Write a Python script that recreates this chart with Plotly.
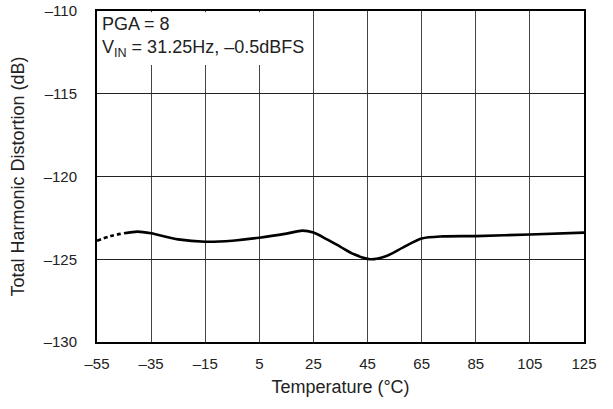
import plotly.graph_objects as go

# Data
temp_dashed = [-55, -50, -45]
thd_dashed = [-123.88, -123.6, -123.43]
temp_solid = [-45, -40, -35, -25, -15, -5, 5, 15, 21, 25, 30, 35, 40, 46, 52, 58, 65, 73, 85, 105, 125]
thd_solid = [-123.43, -123.33, -123.43, -123.8, -123.94, -123.88, -123.7, -123.45, -123.27, -123.39, -123.8, -124.25, -124.7, -125.0, -124.8, -124.3, -123.75, -123.62, -123.6, -123.5, -123.39]

x_ticks = [-55, -35, -15, 5, 25, 45, 65, 85, 105, 125]
y_ticks = [-130, -125, -120, -115, -110]

def lab(v):
    return str(v).replace("-", "\u2013")

fig = go.Figure()
fig.add_trace(go.Scatter(x=temp_dashed, y=thd_dashed, mode="lines",
                         line=dict(color="black", width=2.6, dash="4px,3px", shape="spline"),
                         showlegend=False))
fig.add_trace(go.Scatter(x=temp_solid, y=thd_solid, mode="lines",
                         line=dict(color="black", width=2.6, shape="spline", smoothing=0.8),
                         showlegend=False))

font = dict(family="Liberation Sans, Arial, sans-serif", size=15, color="#222")

fig.update_layout(
    width=613, height=409,
    margin=dict(l=97, r=29, t=11, b=67, autoexpand=False),
    paper_bgcolor="white", plot_bgcolor="white",
    font=font,
    xaxis=dict(range=[-55, 125], tickvals=x_ticks, ticktext=[lab(v) for v in x_ticks],
               showgrid=True, gridcolor="#444", gridwidth=1, zeroline=False,
               showline=True, linecolor="black", linewidth=2, mirror=True,
               ticks="outside", ticklen=7, tickcolor="rgba(0,0,0,0)",
               title=dict(text="Temperature (\u00b0C)", standoff=9)),
    yaxis=dict(range=[-130, -110], tickvals=y_ticks, ticktext=[lab(v) for v in y_ticks],
               showgrid=True, gridcolor="#222", gridwidth=1, zeroline=False,
               showline=True, linecolor="black", linewidth=2, mirror=True,
               ticks="outside", ticklen=15, tickcolor="rgba(0,0,0,0)",
               title=dict(text="Total Harmonic Distortion (dB)", standoff=14)),
)

fig.add_shape(type="rect", xref="paper", yref="paper", x0=0.003, x1=0.443, y0=0.837, y1=0.996,
              fillcolor="white", line=dict(width=0), layer="above")
fig.add_annotation(xref="paper", yref="paper", x=0.006, y=0.997, xanchor="left", yanchor="top",
                   align="left", showarrow=False,
                   text="PGA = 8<br>V<sub>IN</sub> = 31.25Hz, \u20130.5dBFS",
                   font=dict(family="Liberation Sans, Arial, sans-serif", size=18, color="#222"))

fig.write_html("out.html", config={"displayModeBar": False},
               post_script="document.body.style.margin='0';document.body.style.overflow='hidden';")
